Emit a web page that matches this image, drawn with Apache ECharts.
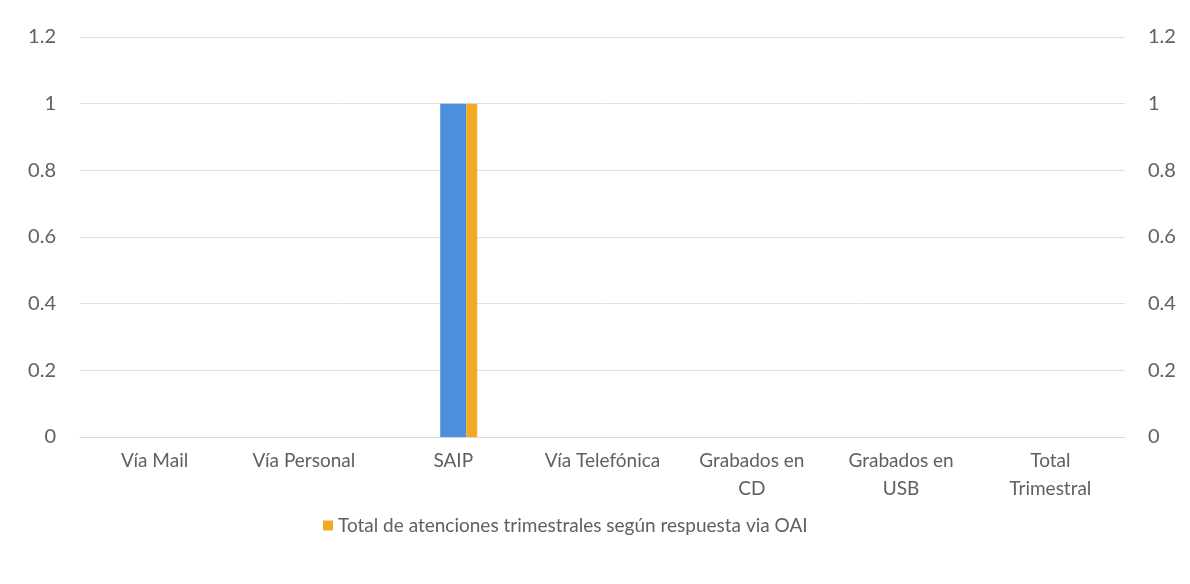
<!DOCTYPE html>
<html>
<head>
<meta charset="utf-8">
<script src="https://cdn.jsdelivr.net/npm/echarts@6/dist/echarts.min.js"></script>
<style>
html,body{margin:0;padding:0;background:#fff;}
#c{width:1190px;height:584px;}
</style>
</head>
<body>
<div id="c"></div>
<script>
const categories = ['Vía Mail', 'Vía Personal', 'SAIP', 'Vía Telefónica', 'Grabados en CD', 'Grabados en USB', 'Total Trimestral'];
const categoryTickLabels = ['Vía Mail', 'Vía Personal', 'SAIP', 'Vía Telefónica', 'Grabados en\nCD', 'Grabados en\nUSB', 'Total\nTrimestral'];
const blueValues = [0, 0, 1, 0, 0, 0, 0];
const orangeValues = [0, 0, 1, 0, 0, 0, 0];
const spacerValues = ['-', '-', '-', '-', '-', '-', '-'];
const orangeName = 'Total de atenciones trimestrales según respuesta via OAI';
const yTicks = {min: 0, max: 1.2, interval: 0.2};

const FONT = 'Lato, "Open Sans", sans-serif';
const TXT = '#606060';
const chart = echarts.init(document.getElementById('c'), null, {renderer: 'canvas'});
const yAxisBase = {
  type: 'value', min: yTicks.min, max: yTicks.max, interval: yTicks.interval,
  axisLine: {show: false}, axisTick: {show: false},
  splitLine: {show: true, lineStyle: {color: '#e0e0e0', width: 1}},
  axisLabel: {color: TXT, fontFamily: FONT, fontSize: 20, margin: 24,
    formatter: v => String(Math.round(v * 10) / 10)}
};
chart.setOption({
  animation: false,
  backgroundColor: '#ffffff',
  grid: {left: 80, right: 65, top: 37, bottom: 147, containLabel: false},
  legend: {
    show: true, data: [orangeName], bottom: 44, left: 318,
    icon: 'rect', itemWidth: 10, itemHeight: 10, itemGap: 8,
    textStyle: {color: TXT, fontFamily: FONT, fontSize: 19}
  },
  xAxis: {
    type: 'category', data: categories,
    axisLine: {show: true, lineStyle: {color: '#d9d9d9'}},
    axisTick: {show: false},
    axisLabel: {interval: 0, color: TXT, fontFamily: FONT, fontSize: 19, margin: 10,
      lineHeight: 28, align: 'center',
      formatter: (v, i) => categoryTickLabels[i]}
  },
  yAxis: [
    Object.assign({}, yAxisBase, {position: 'left'}),
    Object.assign({}, yAxisBase, {position: 'right',
      axisLabel: Object.assign({}, yAxisBase.axisLabel, {margin: 23}),
      splitLine: {show: false}})
  ],
  series: [
    {name: 'spacer', type: 'bar', data: spacerValues, barWidth: 11, barGap: '0%',
      itemStyle: {color: 'transparent'}, silent: true},
    {name: 'Serie azul', type: 'bar', data: blueValues, barWidth: 26, barGap: '0%',
      itemStyle: {color: '#4a90dc'}},
    {name: orangeName, type: 'bar', data: orangeValues, barWidth: 11, barGap: '0%',
      itemStyle: {color: '#f2aa24'}}
  ]
});
</script>
</body>
</html>
